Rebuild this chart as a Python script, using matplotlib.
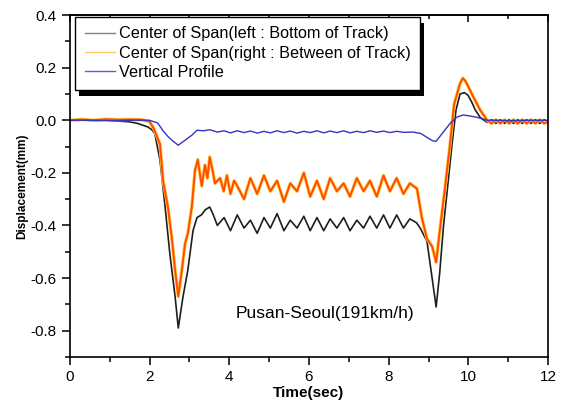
import matplotlib
matplotlib.use("Agg")
import matplotlib.pyplot as plt
from matplotlib.lines import Line2D
from matplotlib.patches import Rectangle
from matplotlib.ticker import MultipleLocator

plt.rcParams['font.family'] = ['Liberation Sans', 'DejaVu Sans']

# center of span, left : bottom of track
t_bottom = [0.0, 0.3, 0.6, 0.9, 1.2, 1.5, 1.7, 1.85, 1.95, 2.05, 2.13, 2.26, 2.39, 2.51,
            2.64, 2.72, 2.84, 2.96, 3.09, 3.19, 3.3, 3.4, 3.51, 3.6, 3.7,
            3.87, 4.03, 4.2, 4.37, 4.53, 4.7, 4.87, 5.03, 5.2, 5.37, 5.53, 5.7, 5.87,
            6.03, 6.2, 6.37, 6.53, 6.7, 6.87, 7.03, 7.2, 7.37, 7.53, 7.7, 7.87, 8.03,
            8.2, 8.37, 8.53, 8.7, 8.79, 8.96, 9.08, 9.19, 9.28, 9.37, 9.48, 9.59, 9.69,
            9.79, 9.9, 9.99, 10.08, 10.17, 10.3, 10.47, 10.58, 10.69, 10.8, 10.91,
            11.02, 11.13, 11.24, 11.35, 11.46, 11.57, 11.68, 11.79, 11.9, 12.0]
y_bottom = [0.0, 0.002, -0.002, 0.001, -0.003, -0.006, -0.012, -0.02, -0.025, -0.035,
            -0.05, -0.15, -0.33, -0.51, -0.67, -0.79, -0.67, -0.57, -0.42, -0.37,
            -0.36, -0.34, -0.33, -0.36, -0.40,
            -0.37, -0.42, -0.36, -0.41, -0.38, -0.43, -0.37, -0.41, -0.355, -0.42,
            -0.38, -0.41, -0.365, -0.42, -0.37, -0.42, -0.375, -0.41, -0.37, -0.42,
            -0.38, -0.41, -0.365, -0.41, -0.36, -0.41, -0.36, -0.41, -0.375, -0.39,
            -0.41, -0.46, -0.59, -0.71, -0.58, -0.41, -0.25, -0.09, 0.04,
            0.10, 0.105, 0.095, 0.07, 0.04, 0.01, -0.008, 0.002, -0.012, 0.002,
            -0.012, 0.002, -0.012, 0.002, -0.012, 0.002, -0.012, 0.002, -0.012,
            0.002, -0.008]

# center of span, right : between of track
t_between = [0.0, 0.3, 0.6, 0.9, 1.2, 1.5, 1.8, 2.0, 2.1, 2.18, 2.26, 2.34, 2.46,
             2.56, 2.64, 2.72, 2.81, 2.89, 2.96, 3.06, 3.14, 3.21, 3.31, 3.39, 3.45,
             3.51, 3.58, 3.64, 3.77, 3.86, 3.94, 4.03, 4.12, 4.2, 4.37, 4.53, 4.7,
             4.87, 5.03, 5.2, 5.37, 5.53, 5.7, 5.87, 6.03, 6.2, 6.37, 6.53, 6.7, 6.87,
             7.03, 7.2, 7.37, 7.53, 7.7, 7.87, 8.03, 8.2, 8.37, 8.53, 8.71, 8.83,
             8.96, 9.09, 9.19, 9.29, 9.41, 9.54, 9.64, 9.79, 9.86, 9.92, 9.99, 10.12,
             10.29, 10.47, 10.58, 10.69, 10.8, 10.91, 11.02, 11.13, 11.24, 11.35,
             11.46, 11.57, 11.68, 11.79, 11.9, 12.0]
y_between = [0.0, 0.003, 0.0, 0.004, 0.002, 0.003, 0.002, -0.005, -0.03, -0.06,
             -0.09, -0.23, -0.33, -0.45, -0.57, -0.67, -0.57, -0.47, -0.43, -0.33,
             -0.19, -0.15, -0.25, -0.17, -0.22, -0.14, -0.19, -0.24, -0.22, -0.27,
             -0.21, -0.28, -0.23, -0.25, -0.30, -0.22, -0.28, -0.21, -0.27, -0.23,
             -0.31, -0.24, -0.27, -0.20, -0.29, -0.23, -0.30, -0.22, -0.27, -0.24,
             -0.29, -0.22, -0.27, -0.23, -0.29, -0.21, -0.27, -0.22, -0.28, -0.24,
             -0.26, -0.37, -0.45, -0.48, -0.54, -0.41, -0.26, -0.09, 0.06, 0.14,
             0.16, 0.15, 0.13, 0.09, 0.04, 0.0, -0.012, 0.002, -0.012, 0.002, -0.012,
             0.002, -0.012, 0.002, -0.012, 0.002, -0.012, 0.002, -0.012, -0.005]

# vertical profile
t_profile = [0.0, 0.5, 1.0, 1.5, 2.0, 2.2, 2.34, 2.45, 2.56, 2.72, 2.89, 3.06,
             3.19, 3.35, 3.51, 3.7, 3.87, 4.03, 4.2, 4.37, 4.53, 4.7, 4.87, 5.03,
             5.2, 5.37, 5.53, 5.7, 5.87, 6.03, 6.2, 6.37, 6.53, 6.7, 6.87, 7.03,
             7.2, 7.37, 7.53, 7.7, 7.87, 8.03, 8.2, 8.37, 8.61, 8.8, 8.96, 9.1,
             9.19, 9.37, 9.54, 9.71, 9.87, 10.05, 10.22, 10.47, 10.7, 11.0, 11.5,
             12.0]
y_profile = [0.0, 0.0, -0.002, 0.0, 0.0, -0.01, -0.04, -0.06, -0.076, -0.095,
             -0.076, -0.057, -0.038, -0.04, -0.036, -0.045, -0.04, -0.048, -0.04,
             -0.047, -0.041, -0.049, -0.042, -0.048, -0.04, -0.047, -0.041, -0.049,
             -0.042, -0.047, -0.04, -0.048, -0.041, -0.047, -0.04, -0.048, -0.042,
             -0.047, -0.04, -0.046, -0.041, -0.047, -0.042, -0.046, -0.045, -0.05,
             -0.065, -0.078, -0.08, -0.045, -0.012, 0.012, 0.02, 0.016, 0.011,
             0.0, 0.0, -0.002, 0.0, 0.0]

labels = ["Center of Span(left : Bottom of Track)",
          "Center of Span(right : Between of Track)",
          "Vertical Profile"]

fig = plt.figure(figsize=(5.68, 4.07), dpi=100)
ax = fig.add_axes([0.123, 0.123, 0.842, 0.84])

ax.plot(t_bottom, y_bottom, color='#1e1e1e', lw=1.2, solid_joinstyle='round')
ax.plot(t_between, y_between, color='#ffc23a', lw=2.4, solid_joinstyle='round')
ax.plot(t_between, y_between, color='#ff4a00', lw=1.3, solid_joinstyle='round')
ax.plot(t_profile, y_profile, color='#3434c4', lw=1.0)

ax.set_xlim(0, 12)
ax.set_ylim(-0.9, 0.4)
ax.xaxis.set_major_locator(MultipleLocator(2))
ax.xaxis.set_minor_locator(MultipleLocator(1))
ax.yaxis.set_major_locator(MultipleLocator(0.2))
ax.yaxis.set_minor_locator(MultipleLocator(0.1))
ax.yaxis.set_major_formatter(plt.FuncFormatter(lambda v, p: f"{v:.1f}"))
ax.tick_params(which='both', direction='out', labelsize=11, width=1.1)
ax.tick_params(which='major', length=6)
ax.tick_params(which='minor', length=3.5)
for s in ax.spines.values():
    s.set_linewidth(1.2)

# top axis: ticks pointing inward, no labels
top = ax.secondary_xaxis('top')
top.xaxis.set_major_locator(MultipleLocator(2))
top.xaxis.set_minor_locator(MultipleLocator(1))
top.tick_params(which='both', direction='in', labeltop=False, width=1.1)
top.tick_params(which='major', length=5)
top.tick_params(which='minor', length=3)
top.spines['top'].set_linewidth(1.2)

ax.set_xlabel("Time(sec)", fontsize=11, fontweight='bold', labelpad=1)
ax.set_ylabel("Displacement(mm)", fontsize=8.5, fontweight='bold', labelpad=2)

ax.text(6.4, -0.735, "Pusan-Seoul(191km/h)", fontsize=12.5, ha='center', va='center')

handles = [Line2D([], [], color='#8c807a', lw=1.0),
           Line2D([], [], color='#ffcf66', lw=1.0),
           Line2D([], [], color='#6a5ad8', lw=1.0)]
leg = ax.legend(handles, labels, loc='upper left', fontsize=11.7, frameon=True,
                bbox_to_anchor=(5 / 478, 1 - 1.5 / 342), borderaxespad=0,
                fancybox=False, edgecolor='black', framealpha=1,
                borderpad=0.6, labelspacing=0.27,
                handlelength=1.85, handletextpad=0.25)
leg.get_frame().set_linewidth(1.0)
leg.set_zorder(5)

fig.canvas.draw()
bb = leg.get_window_extent().transformed(ax.transAxes.inverted())
dx = 4 / ax.bbox.width
dy = 6 / ax.bbox.height
ax.add_patch(Rectangle((bb.x0 + dx, bb.y0 - dy), bb.width, bb.height,
                       transform=ax.transAxes, facecolor='black', zorder=4))

fig.savefig("out.png", dpi=100)
